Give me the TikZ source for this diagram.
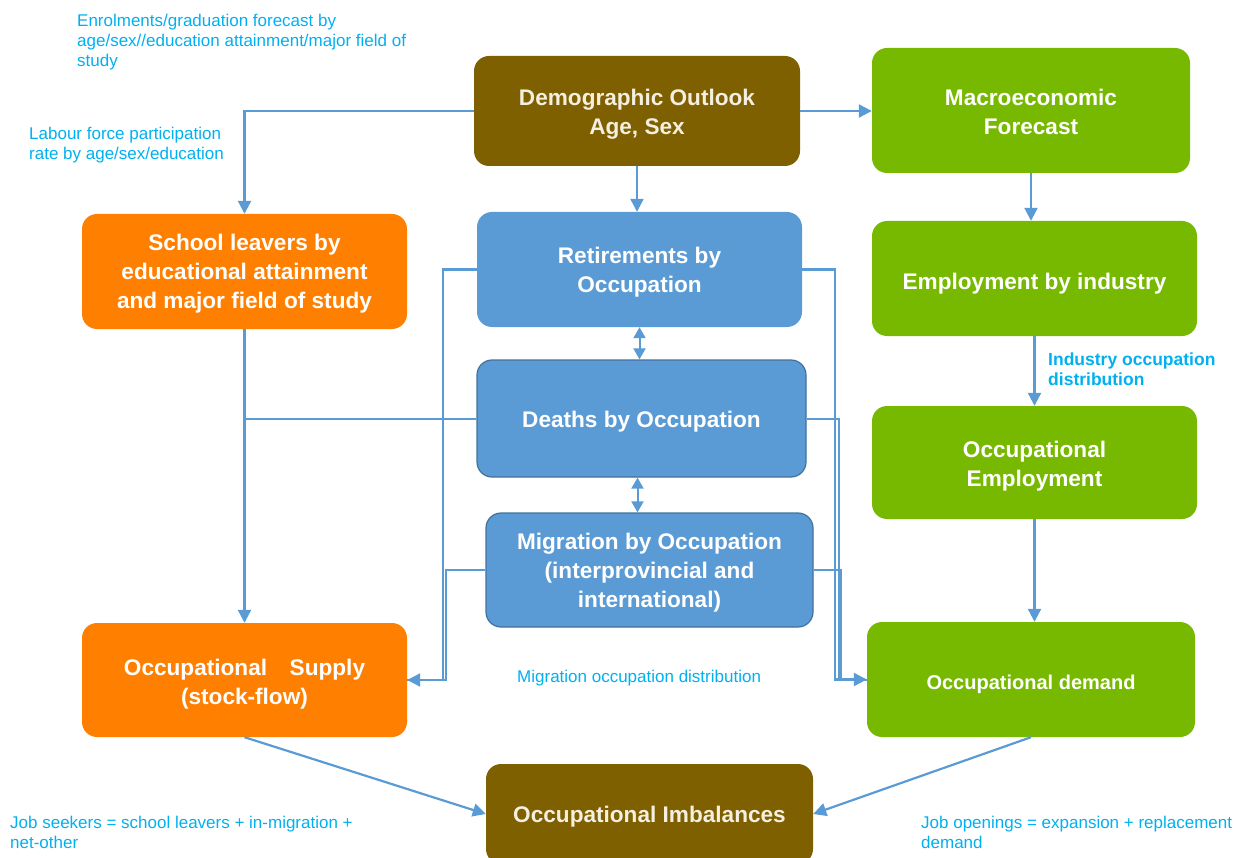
\documentclass[tikz,border=0pt]{standalone}
\usepackage{fontspec}
\setmainfont{Liberation Sans}
\usetikzlibrary{arrows.meta,calc}
\definecolor{brownc}{HTML}{7F6000}
\definecolor{greenc}{HTML}{77B900}
\definecolor{orangec}{HTML}{FF7F00}
\definecolor{bluec}{HTML}{5B9BD5}
\definecolor{blueedge}{HTML}{41719C}
\definecolor{linec}{HTML}{5B9BD5}
\definecolor{labelc}{HTML}{00B0F0}
\definecolor{creamc}{HTML}{F4EFE0}
\newcommand{\tdn}[1]{\rule{0pt}{#1pt}}
\tikzset{
  box/.style={rounded corners=15pt, inner sep=0pt, align=center, text=white,
    font=\bfseries\fontsize{22.6}{29}\selectfont},
  brownbox/.style={box, fill=brownc, text=creamc},
  greenbox/.style={box, fill=greenc},
  orangebox/.style={box, fill=orangec},
  bluebox/.style={box, fill=bluec},
  blueboxb/.style={box, fill=bluec, draw=blueedge, line width=1.2pt},
  lbl/.style={inner sep=0pt, align=left, text=labelc, anchor=base west,
    font=\fontsize{17}{20}\selectfont},
  arr/.style={draw=linec, line width=2.2pt, -{Triangle[width=13pt,length=13pt]}},
  ln/.style={draw=linec, line width=2pt},
  dbl/.style={draw=linec, line width=2pt, {Triangle[width=12pt,length=11pt]}-{Triangle[width=12pt,length=11pt]}}
}
\begin{document}
\begin{tikzpicture}[x=1pt,y=-1pt]
\useasboundingbox (0,0) rectangle (1241,858);
\node[brownbox, minimum width=326pt, minimum height=110pt] (demo) at (637,111) {\tdn{22.5}Demographic Outlook\\Age, Sex};
\node[greenbox, minimum width=318pt, minimum height=125pt] (macro) at (1031,110.5) {\tdn{18.5}Macroeconomic\\Forecast};
\node[orangebox, minimum width=325pt, minimum height=115pt] (sl) at (244.5,271.5) {\tdn{20.5}School leavers by\\educational attainment\\and major field of study};
\node[bluebox, minimum width=325pt, minimum height=115pt] (ret) at (639.5,269.5) {\tdn{22.5}Retirements by\\Occupation};
\node[greenbox, minimum width=325pt, minimum height=115pt] (emp) at (1034.5,278.5) {\tdn{26.5}Employment by industry};
\node[blueboxb, minimum width=329pt, minimum height=117pt] (dea) at (641.5,418.5) {\tdn{22.5}Deaths by Occupation};
\node[greenbox, minimum width=325pt, minimum height=113pt] (oemp) at (1034.5,462.5) {\tdn{24.5}Occupational\\Employment};
\node[blueboxb, minimum width=327pt, minimum height=114pt] (mig) at (649.5,570) {\tdn{21.5}Migration by Occupation\\(interprovincial and\\international)};
\node[orangebox, minimum width=325pt, minimum height=114pt] (sup) at (244.5,680) {\tdn{24.5}Occupational\quad Supply\\(stock-flow)};
\node[greenbox, minimum width=328pt, minimum height=115pt, font=\bfseries\fontsize{20}{28}\selectfont] (dem) at (1031,679.5) {\tdn{24}Occupational demand};
\node[brownbox, minimum width=327pt, minimum height=100pt] (imb) at (649.5,814) {\tdn{22.5}Occupational Imbalances};

\node[lbl] (l1) at (77,67) {Enrolments/graduation forecast by\\age/sex//education attainment/major field of\\study};
\node[lbl] (l2) at (29,160) {Labour force participation\\rate by age/sex/education};
\node[lbl, font=\bfseries\fontsize{17.5}{20}\selectfont] (l3) at (1048,385) {Industry occupation\\distribution};
\node[lbl] (l4) at (517,682) {Migration occupation distribution};
\node[lbl] (l5) at (10,848) {Job seekers = school leavers + in-migration +\\net-other};
\node[lbl] (l6) at (921,848) {Job openings = expansion + replacement\\demand};

\draw[arr] (demo.west) -| (sl.north);
\draw[arr] (demo.east) -- (demo.east -| macro.west);
\draw[arr] (demo.south) -- (demo.south |- ret.north);
\draw[arr] (macro.south) -- (macro.south |- emp.north);
\draw[arr] (emp.south) -- (emp.south |- oemp.north);
\draw[arr] (oemp.south) -- (oemp.south |- dem.north);
\draw[arr] (sl.south) -- (sup.north);
\draw[ln] (dea.west) -- (dea.west -| sl.south);
\draw[dbl] (ret.south) -- (ret.south |- dea.north);
\draw[dbl] ($(dea.south)+(-4,0)$) -- ($(dea.south |- mig.north)+(-4,0)$);
\draw[ln] (mig.west) -- ++(-39,0) |- (sup.east);
\draw[arr] (ret.west) -- ++(-34,0) |- (sup.east);
\draw[ln] (dea.east) -- ++(32,0) |- (dem.west);
\draw[ln] (mig.east) -- ++(27,0) |- (dem.west);
\draw[arr] (ret.east) -- ++(33,0) |- (dem.west);
\draw[arr] (sup.south) -- (imb.west);
\draw[arr] (dem.south) -- (imb.east);
\end{tikzpicture}
\end{document}
